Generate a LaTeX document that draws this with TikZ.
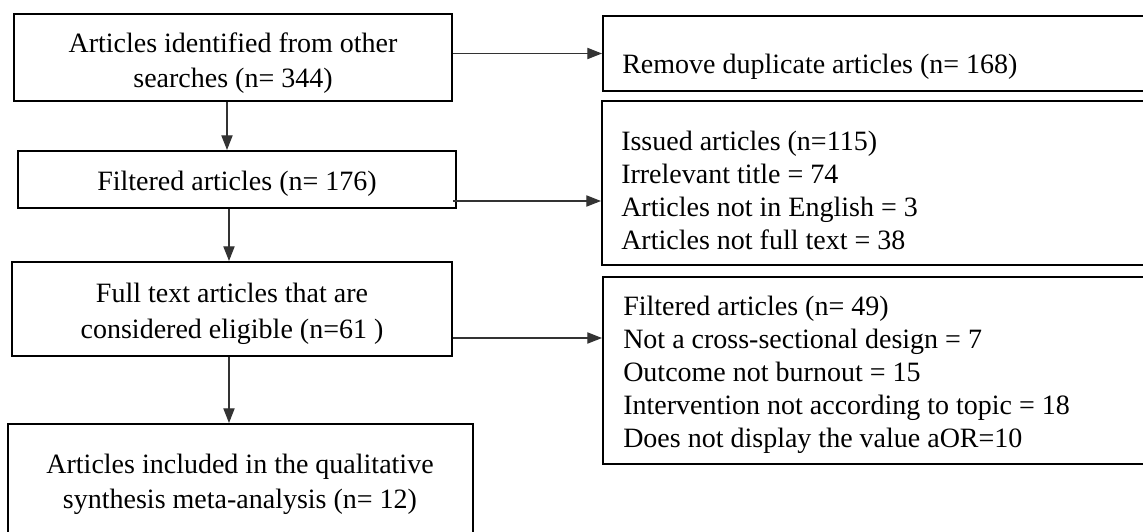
\documentclass[tikz,border=0pt]{standalone}
\usepackage{fontspec}
\setmainfont{Liberation Serif}
\usetikzlibrary{fit,calc,arrows.meta}
\begin{document}
\begin{tikzpicture}[x=0.75pt,y=-0.75pt,
  box/.style={draw=black,line width=1.6pt,inner sep=0pt,fill=none},
  txt/.style={inner sep=0pt,font=\fontsize{21}{24.75}\selectfont,text=black},
  arr/.style={draw=black!80,line width=0.8pt,-{Triangle[length=11pt,width=8.5pt]}}]
\useasboundingbox (0,0) rectangle (1143,532);
\clip (0,0) rectangle (1143,532);
% boxes
\node[box,fit={(14,14) (452,101)}] (A) {};
\node[box,fit={(18,151) (456,208)}] (B) {};
\node[box,fit={(12,262) (452,356)}] (C) {};
\node[box,fit={(8,424) (473,545)}] (F) {};
\node[box,fit={(603,16) (1160,91)}] (D) {};
\node[box,fit={(602,101) (1160,265)}] (E) {};
\node[box,fit={(603,277) (1160,464)}] (G) {};
% texts
\node[txt,anchor=base] (ta1) at (233,52) {Articles identified from other};
\node[txt,anchor=base] (ta2) at (233,87) {searches (n= 344)};
\node[txt,anchor=base] (tb) at (237,190) {Filtered articles (n= 176)};
\node[txt,anchor=base] (tc1) at (232,302) {Full text articles that are};
\node[txt,anchor=base] (tc2) at (232,338) {considered eligible (n=61 )};
\node[txt,anchor=base] (tf1) at (240,473) {Articles included in the qualitative};
\node[txt,anchor=base] (tf2) at (240,508) {synthesis meta-analysis (n= 12)};
\node[txt,anchor=base west] (td) at (622,73) {Remove duplicate articles (n= 168)};
\node[txt,anchor=base west,align=left] (te) at (621,249) {Issued articles (n=115)\\Irrelevant title = 74\\Articles not in English = 3\\Articles not full text = 38};
\node[txt,anchor=base west,align=left] (tg) at (623,447) {Filtered articles (n= 49)\\Not a cross-sectional design = 7\\Outcome not burnout = 15\\Intervention not according to topic = 18\\Does not display the value aOR=10};
% connectors
\coordinate (ab) at ($(A.south)+(-6,0)$);
\draw[arr] (ab) -- (ab |- B.north);
\coordinate (bc) at ($(B.south)+(-8,0)$);
\draw[arr] (bc) -- (bc |- C.north);
\coordinate (cf) at ($(C.south)+(-3,0)$);
\draw[arr] (cf) -- (cf |- F.north);
\draw[arr] (A.east |- D.west) -- (D.west);
\coordinate (be) at ($(B.east)+(-4,21.5)$);
\draw[arr] (be) -- (E.west |- be);
\coordinate (cg) at ($(C.east)+(0,29)$);
\draw[arr] (cg) -- (G.west |- cg);
\end{tikzpicture}
\end{document}
